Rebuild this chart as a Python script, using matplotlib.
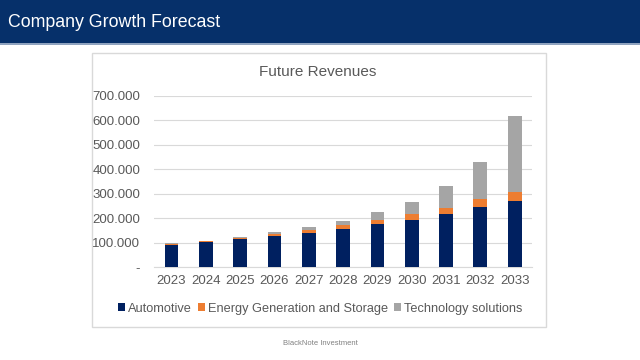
"""Company growth forecast - stacked revenue bars."""

import matplotlib
matplotlib.use('Agg')
import matplotlib.pyplot as plt
from matplotlib.patches import Rectangle
from matplotlib.ticker import FuncFormatter, MultipleLocator
import numpy as np

plt.rcParams['font.family'] = ['Liberation Sans', 'DejaVu Sans']

# Data
years = ['2023', '2024', '2025', '2026', '2027', '2028',
         '2029', '2030', '2031', '2032', '2033']
automotive = [90000, 101000, 114000, 127000, 141000, 156000,
              176000, 194000, 218000, 245000, 271000]
energy = [5000, 4000, 6000, 10000, 11000, 17000,
          17000, 24000, 24000, 32000, 36000]
technology = [2000, 2000, 2000, 6000, 12000, 17000,
              31000, 49000, 89000, 153000, 309000]

NAVY = '#002060'
ORANGE = '#ED7D31'
GRAY = '#A5A5A5'
HEADER = '#06306A'
TEXT = '#595959'


def fmt_thousands(v, pos):
    if v == 0:
        return '-'
    return f"{v:,.0f}".replace(',', '.')


fig = plt.figure(figsize=(6.4, 3.6), dpi=100)
fig.patch.set_facecolor('white')

# Header band
fig.patches.append(Rectangle((0, 0.881), 1, 0.119, transform=fig.transFigure,
                             facecolor=HEADER, edgecolor='none', zorder=0))
fig.patches.append(Rectangle((0, 0.875), 1, 0.006, transform=fig.transFigure,
                             facecolor='#8FA3BF', edgecolor='none', zorder=0))
fig.text(0.013, 0.937, 'Company Growth Forecast', color='white', fontsize=12.8,
         ha='left', va='center')

# Chart frame
fig.patches.append(Rectangle((0.143, 0.093), 0.71, 0.76, transform=fig.transFigure,
                             facecolor='white', edgecolor='#D9D9D9', linewidth=1, zorder=0))

ax = fig.add_axes([0.241, 0.258, 0.590, 0.476])
ax.set_zorder(2)
ax.patch.set_alpha(0)
x = np.arange(len(years))
w = 0.4
bottom2 = np.array(automotive)
bottom3 = bottom2 + np.array(energy)
ax.bar(x, automotive, w, color=NAVY, label='Automotive', zorder=3)
ax.bar(x, energy, w, bottom=bottom2, color=ORANGE,
       label='Energy Generation and Storage', zorder=3)
ax.bar(x, technology, w, bottom=bottom3, color=GRAY,
       label='Technology solutions', zorder=3)

ax.set_xlim(-0.5, len(years) - 0.5)
ax.set_ylim(0, 700000)
ax.yaxis.set_major_locator(MultipleLocator(100000))
ax.yaxis.set_major_formatter(FuncFormatter(fmt_thousands))
ax.set_xticks(x)
ax.set_xticklabels(years)
ax.grid(axis='y', color='#D9D9D9', linewidth=0.8, zorder=0)
for s in ['top', 'right', 'left']:
    ax.spines[s].set_visible(False)
ax.spines['bottom'].set_color('#D9D9D9')
ax.tick_params(axis='both', length=0, labelsize=9.5, labelcolor=TEXT)
ax.tick_params(axis='y', pad=10)
ax.tick_params(axis='x', pad=6)

fig.text(0.497, 0.8, 'Future Revenues', fontsize=11, color=TEXT,
         ha='center', va='center')

handles, labels = ax.get_legend_handles_labels()
leg = fig.legend(handles, labels, loc='center', bbox_to_anchor=(0.5, 0.143), ncol=3,
                 frameon=False, fontsize=9.2, labelcolor=TEXT, handlelength=0.55,
                 handleheight=0.55, handletextpad=0.25, columnspacing=0.45)
leg.set_zorder(3)

fig.text(0.5, 0.047, 'BlackNote Investment', fontsize=5.5, color='#808080',
         ha='center', va='center')

fig.savefig('out.png', dpi=100, facecolor='white')
plt.close(fig)
